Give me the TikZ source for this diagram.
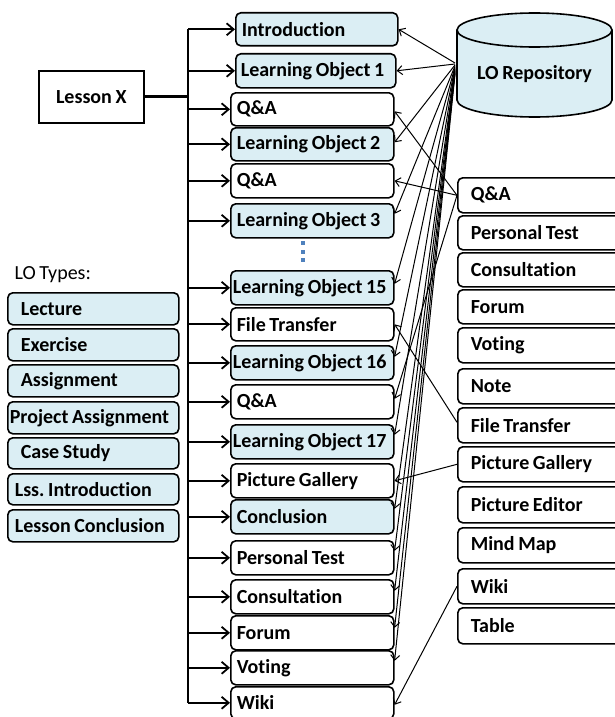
\documentclass[tikz,border=0pt]{standalone}
\usepackage{fontspec}
\setmainfont{Carlito}[WordSpace=0.8, Ligatures=NoCommon]
\usetikzlibrary{arrows.meta}
\definecolor{lobg}{RGB}{219,238,244}
\definecolor{dotblue}{RGB}{79,129,189}
\frenchspacing
\begin{document}
\begin{tikzpicture}[x=1pt,y=-1pt,
  lbl/.style={font=\fontsize{20}{23}\selectfont\bfseries},
  box/.style={lbl, draw, line width=1.6pt, rounded corners=5pt, anchor=north west,
    inner ysep=0pt, align=flush left},
  lob/.style={box, fill=lobg},
  tlb/.style={box, fill=white},
  mid/.style={text width=151pt, inner xsep=6pt, minimum height=34pt},
  midw/.style={text width=159pt, inner xsep=2pt, minimum height=34pt},
  rgt/.style={text width=147pt, inner xsep=13pt},
  lft/.style={text width=145pt, inner xsep=13pt, minimum height=32pt},
  tree/.style={line width=1.8pt, -{Straight Barb[length=7pt,width=12pt]}},
  feed/.style={line width=1pt, -{Straight Barb[length=5pt,width=9pt]}},
]
\useasboundingbox (0,0) rectangle (614,717);

% ---- lesson outline (middle column)
\node[lob, text width=150pt, inner xsep=6pt, minimum height=33pt] (intro) at (235,12) {Introduction};
\node[lob, text width=150pt, inner xsep=5pt, minimum height=34pt] (lo1) at (235,53) {Learning Object 1};
\node[tlb, mid, minimum height=33pt] (qa1) at (230,92) {Q\&A};
\node[lob, mid, minimum height=33pt] (lo2) at (230,127) {Learning Object 2};
\node[tlb, mid] (qa2) at (230,163) {Q\&A};
\node[lob, mid] (lo3) at (230,203) {Learning Object 3};
\node[lob, midw] (lo15) at (230,270) {Learning Object 15};
\node[tlb, mid, minimum height=33pt] (ft) at (230,307) {File Transfer};
\node[lob, midw] (lo16) at (230,345) {Learning Object 16};
\node[tlb, mid] (qa3) at (230,384) {Q\&A};
\node[lob, midw] (lo17) at (230,424) {Learning Object 17};
\node[tlb, mid] (pg) at (230,463) {Picture Gallery};
\node[lob, mid] (concl) at (230,499) {Conclusion};
\node[tlb, mid] (pt) at (230,540) {Personal Test};
\node[tlb, mid] (cons) at (230,579) {Consultation};
\node[tlb, mid] (forum) at (230,615) {Forum};
\node[tlb, mid] (vote) at (230,650) {Voting};
\node[tlb, mid, minimum height=32pt] (wiki) at (230,686) {Wiki};

% ellipsis between object 3 and object 15
\foreach \yy in {241,249.5,258}
  \fill[dotblue] (301,\yy) rectangle ++(4,4);

% ---- lesson box and tree
\node[lbl, draw, line width=1.6pt, minimum width=105pt, minimum height=52pt,
  anchor=north west] (lesson) at (38,70) {Lesson X};
\coordinate (trunk) at (188,0);
\draw[line width=1.8pt] (intro.west -| trunk) -- (wiki.west -| trunk);
\draw[line width=3pt] (lesson.east) -- (lesson.east -| trunk);
\foreach \n in {intro,lo1,qa1,lo2,qa2,lo3,lo15,ft,lo16,qa3,lo17,pg,concl,pt,cons,forum,vote,wiki}
  \draw[tree] (\n.west -| trunk) -- (\n.west);

% ---- repository
\fill[lobg] (457,30) -- (457,100) arc (180:360:77.5pt and 17pt) -- (612,30)
  arc (0:180:77.5pt and 17pt) -- cycle;
\draw[line width=1.6pt] (457,30) -- (457,100) arc (180:360:77.5pt and 17pt) -- (612,30);
\draw[line width=1.6pt] (534.5,30) ellipse (77.5pt and 17pt);
\node[lbl] (repo) at (534.5,74) {LO Repository};
\coordinate (rp) at (455,63);

% ---- tool palette (right column)
\node[tlb, rgt, minimum height=35pt] (rqa) at (457,177) {Q\&A};
\node[tlb, rgt, minimum height=34pt] (rpt) at (457,215) {Personal Test};
\node[tlb, rgt, minimum height=34pt] (rcons) at (457,252) {Consultation};
\node[tlb, rgt, minimum height=34pt] (rforum) at (457,289) {Forum};
\node[tlb, rgt, minimum height=35pt] (rvote) at (457,327) {Voting};
\node[tlb, rgt, minimum height=35pt] (rnote) at (457,368) {Note};
\node[tlb, rgt, minimum height=35pt] (rft) at (457,407) {File Transfer};
\node[tlb, rgt, minimum height=35pt] (rpg) at (457,446) {Picture Gallery};
\node[tlb, rgt, minimum height=36pt] (rpe) at (457,486) {Picture Editor};
\node[tlb, rgt, minimum height=35pt] (rmm) at (457,527) {Mind Map};
\node[tlb, rgt, minimum height=35pt] (rwiki) at (457,568) {Wiki};
\node[tlb, rgt, minimum height=36pt] (rtable) at (457,607) {Table};

% ---- LO types (left column)
\node[lbl, font=\fontsize{20}{23}\selectfont, anchor=west] (types) at (11,275) {LO Types:};
\node[lob, lft] (lecture) at (7,292) {Lecture};
\node[lob, lft] (exercise) at (7,328) {Exercise};
\node[lob, lft] (assign) at (7,364) {Assignment};
\node[lob, lft, text width=167pt, inner xsep=2pt] (proj) at (7,401) {Project Assignment};
\node[lob, lft, minimum height=31pt] (case) at (7,437) {Case Study};
\node[lob, lft, text width=157pt, inner xsep=7pt, minimum height=31pt] (lss) at (7,473) {Lss. Introduction};
\node[lob, lft, text width=157pt, inner xsep=7pt] (lconc) at (7,509) {Lesson Conclusion};

% ---- repository feeds
\draw[feed] (rp) -- (intro.east);
\draw[feed] ([yshift=-1pt]rp) -- (lo1.east);
\draw[feed] ([yshift=-2pt]rp) -- ([yshift=2pt]lo2.east);
\draw[feed] ([yshift=-3pt]rp) -- ([yshift=7pt]lo3.east);
\draw[feed] ([yshift=-4pt]rp) -- ([yshift=4pt]lo15.east);
\draw[feed] ([yshift=-5pt]rp) -- ([yshift=6pt]lo16.east);
\draw[feed] ([yshift=-6pt]rp) -- ([yshift=7pt]lo17.east);
\draw[feed] ([yshift=-7pt]rp) -- ([yshift=8pt]concl.east);
\draw[feed] ([yshift=-8pt]rp) -- ([yshift=7pt]pt.east);
\draw[feed] ([yshift=-9pt]rp) -- ([yshift=6pt]cons.east);
\draw[feed] ([yshift=-10pt]rp) -- ([yshift=5pt]forum.east);
\draw[feed] ([yshift=-11pt]rp) -- ([yshift=7pt]vote.east);

% ---- tool feeds
\draw[feed] (rqa.west) -- ([yshift=-2pt]qa1.east);
\draw[feed] (rqa.west) -- (qa2.east);
\draw[feed] (rqa.west) -- ([yshift=3pt]qa3.east);
\draw[feed] ([yshift=3pt]rft.west) -- (ft.east);
\draw[feed] (rpg.west) -- (pg.east);
\draw[feed] (rwiki.west) -- ([yshift=-2pt]wiki.east);
\end{tikzpicture}
\end{document}
